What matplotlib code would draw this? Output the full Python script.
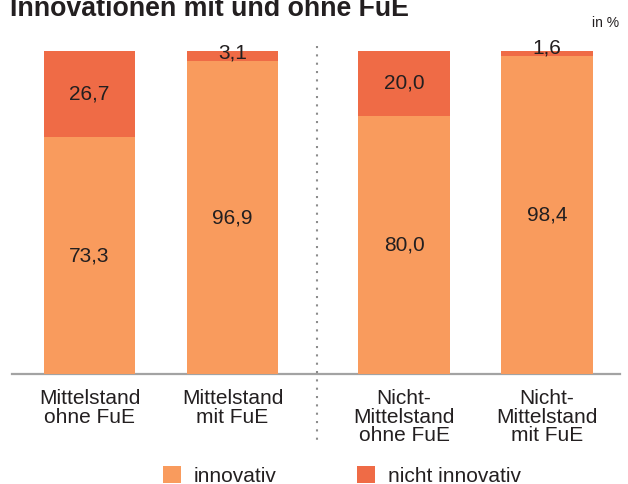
import matplotlib
matplotlib.use("Agg")
import matplotlib.pyplot as plt
from matplotlib.lines import Line2D

plt.rcParams['font.family'] = ['Liberation Sans', 'DejaVu Sans']

title = "Innovationen mit und ohne FuE"
unit = "in %"
categories = ["Mittelstand\nohne FuE", "Mittelstand\nmit FuE",
              "Nicht-\nMittelstand\nohne FuE", "Nicht-\nMittelstand\nmit FuE"]
innovativ = [73.3, 96.9, 80.0, 98.4]
nicht_innovativ = [26.7, 3.1, 20.0, 1.6]
series_names = ["innovativ", "nicht innovativ"]

c_inno = "#F99B5D"
c_nicht = "#EF6B46"
txt = "#231F20"

W, H = 628, 484
fig = plt.figure(figsize=(W / 100, H / 100), dpi=100)
ax = fig.add_axes([12 / W, 1 - 374 / H, 608 / W, 323 / H])

pos = [0, 1, 2.2, 3.2]
width = 0.64
b1 = ax.bar(pos, innovativ, width=width, color=c_inno, label=series_names[0], zorder=2)
b2 = ax.bar(pos, nicht_innovativ, width=width, bottom=innovativ, color=c_nicht,
            label=series_names[1], zorder=2)

fs = 15
def fmt(v):
    return f"{v:.1f}".replace(".", ",")

for x, a, b in zip(pos, innovativ, nicht_innovativ):
    ax.text(x, a / 2, fmt(a), ha="center", va="center", fontsize=fs, color=txt, zorder=3)
    if b >= 5:
        ax.text(x, a + b / 2, fmt(b), ha="center", va="center", fontsize=fs, color=txt, zorder=3)
    else:
        ax.text(x, a + 0.8, fmt(b), ha="center", va="baseline", fontsize=fs, color=txt, zorder=3)

ax.set_xlim(-0.542, 3.71)
ax.set_ylim(0, 100)
for s in ax.spines.values():
    s.set_visible(False)
ax.set_yticks([])
ax.set_xticks(pos)
ax.set_xticklabels(categories, fontsize=fs, color=txt, linespacing=0.95)
ax.tick_params(axis="x", length=0, pad=11)
ax.axhline(0, color="#A3A3A3", lw=1.6, zorder=1, clip_on=False)

# dotted separator
fig.add_artist(Line2D([317 / W, 317 / W], [1 - 46 / H, 1 - 446 / H], color="#8C8C8C",
                      lw=1.5, linestyle=(0, (1, 3)), transform=fig.transFigure))

fig.text(10 / W, 1 - 16 / H, title, fontsize=19.3, fontweight="bold", color=txt,
         ha="left", va="baseline")
fig.text(619 / W, 1 - 27 / H, unit, fontsize=10, color=txt, ha="right", va="baseline")

fig.legend(handles=[b1, b2], labels=series_names, loc="lower left",
           bbox_to_anchor=(163 / W, -2 / H), ncol=2, frameon=False, fontsize=fs,
           handlelength=0.87, handleheight=0.87, handletextpad=0.58,
           columnspacing=3.9, borderpad=0, borderaxespad=0, labelcolor=txt)

fig.savefig("out.png", dpi=100)
